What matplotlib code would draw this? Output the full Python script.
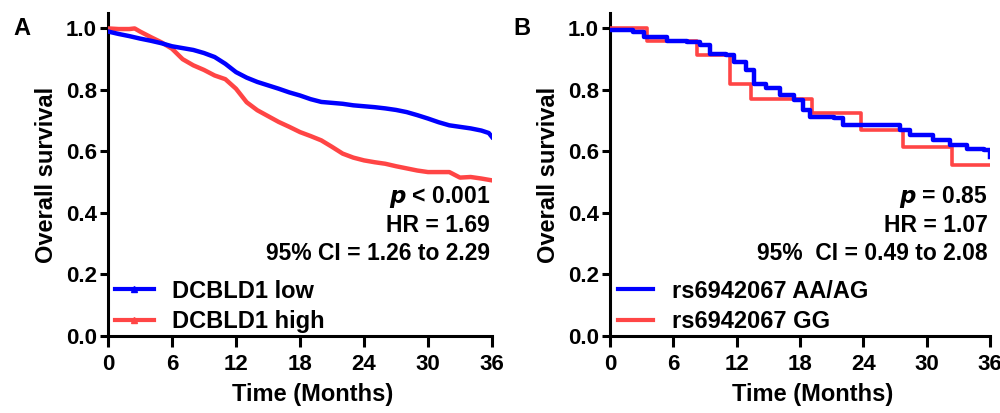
import matplotlib
matplotlib.use('Agg')
import matplotlib.pyplot as plt
from matplotlib.lines import Line2D

plt.rcParams['font.family'] = ['Liberation Sans', 'DejaVu Sans']
plt.rcParams['font.weight'] = 'bold'

# panel A - DCBLD1 expression
a_low_t = [0, 1, 2, 3, 4, 5, 6, 7, 8, 9, 10, 11, 12, 13, 14, 15, 16, 17, 18, 19, 20, 21,
           22, 23, 24, 25, 26, 27, 28, 29, 30, 31, 32, 33, 34, 35, 35.7, 36]
a_low_s = [0.99, 0.982, 0.975, 0.967, 0.96, 0.952, 0.942, 0.936, 0.93, 0.92, 0.907, 0.885,
           0.858, 0.84, 0.826, 0.815, 0.804, 0.792, 0.782, 0.77, 0.761, 0.758, 0.755, 0.75,
           0.747, 0.744, 0.74, 0.735, 0.728, 0.718, 0.707, 0.695, 0.685, 0.68, 0.675, 0.668,
           0.66, 0.647]
a_high_t = [0, 1, 2, 2.5, 3, 4, 5, 6, 7, 8, 9, 10, 11, 12, 13, 14, 15, 16, 17, 18, 19, 20,
            21, 22, 23, 24, 25, 26, 27, 28, 29, 30, 31, 32, 33, 34, 35, 36]
a_high_s = [1.0, 0.998, 0.998, 1.0, 0.99, 0.972, 0.955, 0.934, 0.9, 0.88, 0.865, 0.847,
            0.835, 0.804, 0.76, 0.734, 0.715, 0.696, 0.68, 0.663, 0.65, 0.636, 0.615, 0.593,
            0.58, 0.571, 0.565, 0.56, 0.552, 0.545, 0.538, 0.533, 0.533, 0.533, 0.515, 0.517,
            0.512, 0.506]

# panel B - rs6942067 genotype
b_aa_t = [0, 2.2, 3.2, 5.4, 7.3, 8.5, 9.5, 11, 11.7, 12.9, 13.6, 14.8, 16.1, 17.4, 18.3,
          18.9, 21.2, 22.1, 24.3, 27.5, 28.4, 30.6, 32.2, 33.8, 35.4, 36]
b_aa_s = [0.995, 0.99, 0.972, 0.96, 0.956, 0.945, 0.918, 0.913, 0.89, 0.865, 0.82, 0.805,
          0.783, 0.767, 0.734, 0.712, 0.708, 0.686, 0.686, 0.67, 0.653, 0.636, 0.62, 0.609,
          0.604, 0.582]
b_gg_t = [0, 3.5, 8.2, 11.4, 13.4, 19.1, 23.8, 27.8, 32.4, 36]
b_gg_s = [1.0, 0.958, 0.912, 0.82, 0.77, 0.725, 0.669, 0.615, 0.555, 0.555]

blue = '#0000FF'
red = '#FF4545'

fig = plt.figure(figsize=(10, 4.13), dpi=100)
ax_a = fig.add_axes([0.108, 0.1864, 0.384, 0.782])
ax_b = fig.add_axes([0.610, 0.1864, 0.380, 0.782])


def style_axis(ax):
    ax.set_xlim(0, 36)
    ax.set_ylim(0, 1.05)
    ax.set_xticks(range(0, 37, 6))
    ax.set_yticks([0, 0.2, 0.4, 0.6, 0.8, 1.0])
    ax.set_yticklabels(['0.0', '0.2', '0.4', '0.6', '0.8', '1.0'])
    for side in ['top', 'right']:
        ax.spines[side].set_visible(False)
    for side in ['left', 'bottom']:
        ax.spines[side].set_linewidth(2.2)
    ax.tick_params(axis='x', direction='out', length=8, width=2.2, labelsize=16, pad=5)
    ax.tick_params(axis='y', direction='out', length=6, width=2.2, labelsize=16, pad=2)
    for lab in ax.get_xticklabels() + ax.get_yticklabels():
        lab.set_fontweight('bold')
    ax.set_ylabel('Overall survival', fontsize=17, fontweight='bold', labelpad=6)
    ax.set_xlabel('Time (Months)', fontsize=17, fontweight='bold', labelpad=6)
    ax.xaxis.label.set_x(0.533)  # label sits a bit right of centre in the original
    ax.patch.set_alpha(0)


# panel A
ax_a.plot(a_high_t, a_high_s, color=red, lw=3.2, zorder=3)
ax_a.plot(a_low_t, a_low_s, color=blue, lw=3.2, zorder=4)
style_axis(ax_a)
stats_a = ['$\\mathbfit{p}$ < 0.001', 'HR = 1.69', '95% CI = 1.26 to 2.29']
for i, s in enumerate(stats_a):
    ax_a.text(35.8, 0.451 - i * 0.092, s, ha='right', va='center', fontsize=16.5,
              fontweight='bold')
handles_a = [Line2D([], [], color=blue, lw=3, marker='^', markersize=4),
             Line2D([], [], color=red, lw=3, marker='^', markersize=4)]
ax_a.legend(handles_a, ['DCBLD1 low', 'DCBLD1 high'], loc='center left',
            bbox_to_anchor=(0.018, 0.092), frameon=False, handlelength=1.65,
            handletextpad=0.75, labelspacing=0.3, borderaxespad=0, borderpad=0,
            prop={'weight': 'bold', 'size': 17})
fig.text(0.013, 0.932, 'A', fontsize=17, fontweight='bold', va='center')

# panel B
ax_b.step(b_gg_t, b_gg_s, where='post', color=red, lw=2.6, zorder=3)
ax_b.step(b_aa_t, b_aa_s, where='post', color=blue, lw=3.2, zorder=4)
style_axis(ax_b)
stats_b = ['$\\mathbfit{p}$ = 0.85', 'HR = 1.07', '95%  CI = 0.49 to 2.08']
for i, s in enumerate(stats_b):
    ax_b.text(35.8, 0.451 - i * 0.092, s, ha='right', va='center', fontsize=16.5,
              fontweight='bold')
handles_b = [Line2D([], [], color=blue, lw=3), Line2D([], [], color=red, lw=3)]
ax_b.legend(handles_b, ['rs6942067 AA/AG', 'rs6942067 GG'], loc='center left',
            bbox_to_anchor=(0.021, 0.092), frameon=False, handlelength=1.48,
            handletextpad=0.8, labelspacing=0.3, borderaxespad=0, borderpad=0,
            prop={'weight': 'bold', 'size': 17})
fig.text(0.513, 0.932, 'B', fontsize=17, fontweight='bold', va='center')

fig.savefig('out.png', dpi=100)
